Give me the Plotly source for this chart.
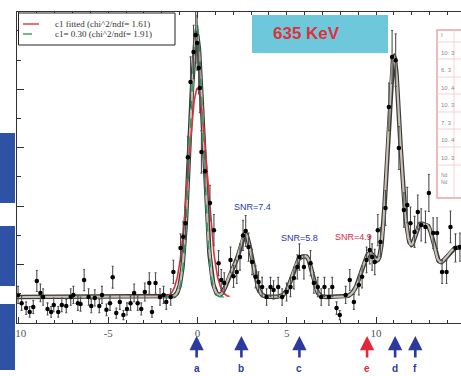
import numpy as np
import plotly.graph_objects as go

# ---------------- data ----------------
x_data = [-10.05, -9.85, -9.6, -9.4, -9.2, -9.0, -8.8, -8.65, -8.4, -8.2, -8.05, -7.8, -7.6,
          -7.35, -7.1, -6.95, -6.7, -6.55, -6.35, -6.1, -5.95, -5.75, -5.5, -5.35, -5.1,
          -4.9, -4.75, -4.55, -4.35, -4.15, -3.95, -3.75, -3.55, -3.35, -3.15, -2.95, -2.7,
          -2.55, -2.35, -2.1, -1.9, -1.75, -1.5, -1.35, -0.95, -0.8, -0.67, -0.54, -0.39,
          -0.22, -0.1, -0.02, 0.07, 0.13, 0.22, 0.42, 0.7, 0.92, 1.18, 1.33, 1.5, 1.85,
          2.02, 2.2, 2.38, 2.55, 2.7, 2.86, 3.06, 3.25, 3.42, 3.62, 3.87, 4.09, 4.26, 4.52,
          4.74, 4.99, 5.21, 5.4, 5.59, 5.71, 5.96, 6.33, 6.52, 6.74, 6.93, 7.11, 7.36, 7.55,
          7.79, 7.97, 8.3, 8.53, 8.76, 9.04, 9.22, 9.47, 9.65, 9.78, 9.93, 10.1, 10.25,
          10.53, 10.72, 10.9, 11.1, 11.28, 11.56, 11.75, 11.93, 12.16, 12.34, 12.53, 12.77,
          12.96, 13.2, 13.42, 13.7, 13.95, 14.17, 14.45, 14.7]
y_data = [96, 68, 51, 38, 55, 144, 103, 89, 48, 38, 62, 38, 62,
          58, 89, 96, 68, 65, 147, 89, 58, 86, 58, 96, 45,
          68, 157, 34, 72, 27, 48, 68, 103, 68, 48, 106, 137,
          38, 137, 89, 96, 72, 89, 175, 257, 295, 342, 568, 825,
          928, 986, 959, 873, 805, 586, 520, 411, 318, 205, 147, 137, 216,
          160, 175, 226, 300, 315, 260, 209, 158, 140, 123, 89, 123, 113, 123,
          89, 106, 123, 154, 192, 226, 192, 205, 137, 123, 89, 123, 89, 123,
          51, 27, 96, 147, 72, 130, 158, 216, 250, 226, 209, 318, 277,
          394, 740, 911, 900, 599, 387, 404, 342, 312, 380, 336, 329,
          445, 308, 308, 175, 175, 329, 257, 260]

# overall fit: flat background + gaussian peaks
fit_background = 89
fit_centers = [-0.05, 1.9, 2.68, 5.7, 6.25, 9.65, 11.0, 11.72, 12.35, 12.95, 14.6]
fit_amps = [900, 70, 215, 125, 80, 150, 820, 100, 200, 170, 170]
fit_sigmas = [0.38, 0.28, 0.36, 0.38, 0.25, 0.45, 0.36, 0.25, 0.3, 0.3, 1.0]

# c1 fitted (red) and c1 = 0.30 (green) models of the main peak
red_peak = dict(center=0.0, amp=715, sigma=0.52)
green_peak = dict(center=-0.05, amp=940, sigma=0.36)

legend_labels = ["c1 fitted (chi^2/ndf= 1.61)", "c1= 0.30 (chi^2/ndf= 1.91)"]
snr_labels = ["SNR=7.4", "SNR=5.8", "SNR=4.9"]
snr_x = [3.08, 5.71, 8.74]
snr_y = [397, 291, 295]
arrow_names = ["a", "b", "c", "e", "d", "f"]
arrow_x = [-0.05, 2.46, 5.71, 9.5, 11.07, 12.2]
x_tickvals = [-10, -5, 0, 5, 10]
x_ticktext = ["-10", "-5", "0", "5", "10"]
table_rows = ["I", "10: 3", "6. 3", "10. 4", "10. 3", "7. 3", "10. 4", "10. 3"]

BLUE = "#2B3A9E"
RED = "#E2283A"

# ---------------- helpers ----------------
W, H = 461, 376
L, T, B = 17, 12, 53
PW, PH = W - L, H - T - B


def px(xp):
    return (xp - L) / PW


def py(yp):
    return (H - B - yp) / PH


def gauss(x, c, a, s):
    return a * np.exp(-0.5 * ((x - c) / s) ** 2)


xf = np.linspace(-10.11, 14.76, 1400)
total = np.full_like(xf, fit_background, dtype=float)
for c, a, s in zip(fit_centers, fit_amps, fit_sigmas):
    total += gauss(xf, c, a, s)

xm = np.linspace(-1.8, 1.8, 400)
red_curve = fit_background + gauss(xm, red_peak["center"], red_peak["amp"], red_peak["sigma"])
green_curve = fit_background + gauss(xm, green_peak["center"], green_peak["amp"], green_peak["sigma"])

yd = np.array(y_data, dtype=float)
err = 3.0 * np.sqrt(yd)

fig = go.Figure()
fig.add_trace(go.Scatter(x=xf, y=total, mode="lines", line=dict(color="#3a3a3a", width=4.5),
                         hoverinfo="skip", showlegend=False))
fig.add_trace(go.Scatter(x=xf, y=total, mode="lines", line=dict(color="#c9c2b4", width=2.2),
                         hoverinfo="skip", showlegend=False))
fig.add_trace(go.Scatter(x=xm, y=red_curve, mode="lines", line=dict(color="#e0303a", width=1.6),
                         showlegend=False))
fig.add_trace(go.Scatter(x=xm, y=green_curve, mode="lines",
                         line=dict(color="#2aa060", width=1.6, dash="dash"), showlegend=False))
fig.add_trace(go.Scatter(x=x_data, y=y_data, mode="markers",
                         marker=dict(color="black", size=4.5),
                         error_y=dict(type="data", array=err, color="#505050", thickness=1.1, width=1),
                         showlegend=False))

shapes = []
# blue blocks at left edge
for y0, y1 in [(133, 203), (226, 286), (304, 370)]:
    shapes.append(dict(type="rect", xref="paper", yref="paper", x0=px(0), x1=px(15),
                       y0=py(y1), y1=py(y0), fillcolor="#2E52A6", line=dict(width=0), layer="above"))
# legend box
shapes.append(dict(type="rect", xref="paper", yref="paper", x0=px(18.5), x1=px(175), y0=py(45),
                   y1=py(13), line=dict(color="#222", width=1), fillcolor="white", layer="above"))
shapes.append(dict(type="line", xref="paper", yref="paper", x0=px(23), x1=px(39), y0=py(24), y1=py(24),
                   line=dict(color="#e0303a", width=1.4), layer="above"))
shapes.append(dict(type="line", xref="paper", yref="paper", x0=px(23), x1=px(41), y0=py(34), y1=py(34),
                   line=dict(color="#2aa060", width=1.4, dash="dash"), layer="above"))
# 635 KeV box
shapes.append(dict(type="rect", xref="paper", yref="paper", x0=px(252), x1=px(388), y0=py(53), y1=py(15),
                   fillcolor="#6EC8DC", line=dict(width=0), layer="above"))
# table box
shapes.append(dict(type="rect", xref="paper", yref="paper", x0=px(437), x1=px(480), y0=py(198), y1=py(30),
                   fillcolor="white", line=dict(color="#e8a4ac", width=1.5), layer="above"))
for yl in [42, 59, 77, 94, 112, 129, 147, 165]:
    shapes.append(dict(type="line", xref="paper", yref="paper", x0=px(437), x1=px(480), y0=py(yl), y1=py(yl),
                       line=dict(color="#f0c8cc", width=0.8), layer="above"))
shapes.append(dict(type="line", xref="paper", yref="paper", x0=px(454), x1=px(454), y0=py(198), y1=py(30),
                   line=dict(color="#f0c8cc", width=0.8), layer="above"))

annotations = []
for i, lab in enumerate(legend_labels):
    annotations.append(dict(xref="paper", yref="paper", x=px(53), y=py(24 + 10 * i), text=lab,
                            showarrow=False, xanchor="left", yanchor="middle",
                            font=dict(family="Liberation Serif", size=9, color="#333")))
annotations.append(dict(xref="paper", yref="paper", x=px(306), y=py(34), text="<b>635 KeV</b>",
                        showarrow=False, xanchor="center", yanchor="middle",
                        font=dict(family="Liberation Sans", size=17, color="#E0303C")))
for i, lab in enumerate(table_rows):
    annotations.append(dict(xref="paper", yref="paper", x=px(439), y=py(35 + 17.5 * i), text=lab,
                            showarrow=False, xanchor="left", yanchor="middle",
                            font=dict(family="Liberation Sans", size=6, color="#8a8a8a")))
annotations.append(dict(xref="paper", yref="paper", x=px(439), y=py(178), text="Nd<br>Nd",
                        showarrow=False, xanchor="left", yanchor="middle",
                        font=dict(family="Liberation Sans", size=5, color="#8a8a8a")))
snr_colors = [BLUE, BLUE, "#D8284A"]
for lab, sx, sy, col in zip(snr_labels, snr_x, snr_y, snr_colors):
    annotations.append(dict(x=sx, y=sy, text=lab, showarrow=False, xanchor="center", yanchor="middle",
                            font=dict(family="Liberation Sans", size=9, color=col)))
for name, axp in zip(arrow_names, arrow_x):
    col = RED if name == "e" else BLUE
    annotations.append(dict(x=axp, xref="x", yref="paper", y=py(336), ax=0, ay=23, text="",
                            showarrow=True, arrowhead=2, arrowsize=1.1, arrowwidth=2.6, arrowcolor=col))
    annotations.append(dict(x=axp, xref="x", yref="paper", y=py(368), text="<b>" + name + "</b>",
                            showarrow=False, xanchor="center", yanchor="middle",
                            font=dict(family="Liberation Sans", size=10, color=col)))

fig.update_layout(
    width=W, height=H, margin=dict(l=L, r=0, t=T, b=B),
    paper_bgcolor="white", plot_bgcolor="white",
    shapes=shapes, annotations=annotations, showlegend=False,
    xaxis=dict(range=[-10.11, 14.76], tickvals=x_tickvals, ticktext=x_ticktext, ticks="inside",
               ticklen=6, tickcolor="#333", showline=True, linecolor="#333", linewidth=1,
               mirror="ticks", showgrid=False, zeroline=False,
               minor=dict(dtick=1, ticks="inside", ticklen=3, tickcolor="#333"),
               tickfont=dict(family="Liberation Serif", size=11, color="#555")),
    yaxis=dict(range=[0, 1065], dtick=200, ticks="inside", ticklen=7, tickcolor="#333",
               showline=True, linecolor="#333", linewidth=1, mirror=False, showgrid=False,
               zeroline=False, showticklabels=False,
               minor=dict(dtick=100, ticks="inside", ticklen=4, tickcolor="#333")),
)

fig.write_html("out.html")
